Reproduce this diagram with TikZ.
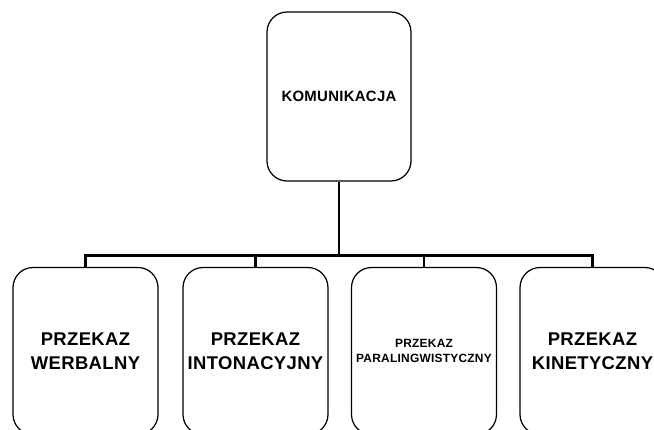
\documentclass[tikz,border=0pt]{standalone}
\usepackage{fontspec}
\setmainfont{Liberation Sans}[LetterSpace=2]
\usetikzlibrary{calc}

\tikzset{
	box/.style={draw, line width=0.7pt, rounded corners=0.4cm, align=center,
		minimum width=2.9cm, minimum height=3.34cm, inner sep=1pt},
	link/.style={line width=1.6pt}
}

\begin{document}
\begin{tikzpicture}[x=0.02cm, y=-0.02cm]
		%%%%% START %%%%%
		\useasboundingbox (0, 0) rectangle (654, 430);
		\clip (0, 0) rectangle (654, 430);
		
		\node[box, minimum width=2.88cm, minimum height=3.38cm, font=\bfseries\fontsize{8.5}{10}\selectfont] (kom) at (339, 96.5) {KOMUNIKACJA};
		
		\node[box, font=\bfseries\fontsize{10.5}{13.6}\selectfont] (werb) at (85.5, 351) {PRZEKAZ\\WERBALNY};
		\node[box, font=\bfseries\fontsize{10.5}{13.6}\selectfont] (inton) at (255.5, 351) {PRZEKAZ\\INTONACYJNY};
		\node[box, font=\bfseries\fontsize{6.8}{8.5}\selectfont] (paral) at (424, 351) {PRZEKAZ\\PARALINGWISTYCZNY};
		\node[box, font=\bfseries\fontsize{10.5}{13.6}\selectfont] (kin) at (592.5, 351) {PRZEKAZ\\KINETYCZNY};
		
		\coordinate (bus) at (339, 255.5);
		\draw[link] (kom.south) -- (bus);
		\draw[link] (werb.north) |- (bus) -| (kin.north);
		\draw[link] (inton.north) -- (inton.north |- bus);
		\draw[link] (paral.north) -- (paral.north |- bus);
		%%%%% END %%%%%
	\end{tikzpicture}
\end{document}
